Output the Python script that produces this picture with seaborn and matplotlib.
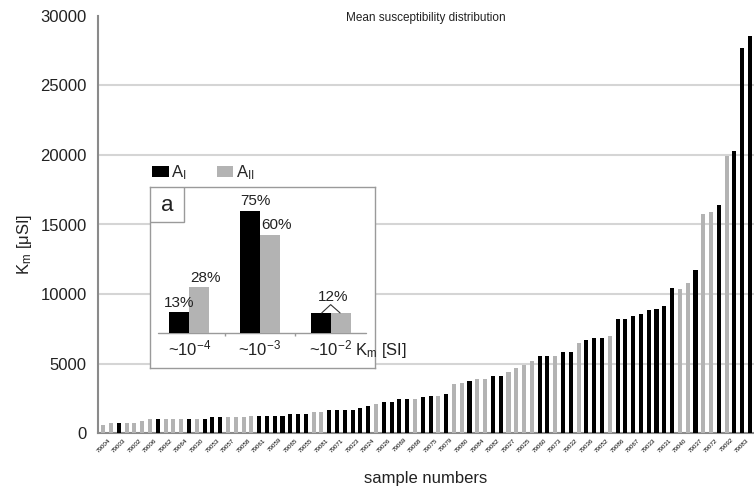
import numpy as np
import pandas as pd
import matplotlib
matplotlib.use("Agg")
import matplotlib.pyplot as plt
from matplotlib.patches import Patch, Rectangle
import seaborn as sns

# Mean susceptibility of each sample, sorted ascending [uSI]
km_values = [620, 750, 750, 750, 750, 900, 1000, 1000, 1000, 1000,
             1000, 1000, 1000, 1000, 1150, 1150, 1150, 1150, 1150, 1250,
             1250, 1250, 1250, 1250, 1420, 1420, 1420, 1540, 1540, 1680,
             1680, 1680, 1680, 1800, 1980, 2120, 2220, 2220, 2440, 2440,
             2440, 2580, 2700, 2700, 2820, 3510, 3630, 3750, 3870, 3870,
             4130, 4130, 4420, 4660, 4900, 5160, 5540, 5540, 5540, 5830,
             5830, 6480, 6720, 6860, 6860, 7000, 8200, 8200, 8440, 8600,
             8840, 8960, 9130, 10440, 10400, 10800, 11710, 15750, 15890, 16420,
             19930, 20310, 27650, 28560]

# Site group of each sample (I = A_I, II = A_II)
km_groups = ["II", "II", "I", "II", "II", "II", "II", "I", "II", "II",
             "II", "I", "II", "I", "I", "I", "II", "II", "II", "II",
             "I", "I", "I", "I", "I", "I", "I", "II", "II", "I",
             "I", "I", "I", "I", "I", "II", "I", "I", "I", "I",
             "II", "I", "I", "II", "I", "II", "II", "I", "II", "II",
             "I", "I", "II", "II", "II", "II", "I", "I", "II", "I",
             "I", "II", "I", "I", "I", "II", "I", "I", "I", "I",
             "I", "I", "I", "I", "II", "II", "I", "II", "II", "I",
             "II", "I", "I", "I"]

# Sample numbers printed under every second bar
sample_labels = ["79004", "79003", "79002", "79006", "79062", "79064", "79030",
                 "79053", "79057", "79058", "79061", "79059", "79065", "79055",
                 "79081", "79071", "79023", "79024", "79026", "79069", "79068",
                 "79075", "79079", "79080", "79084", "79082", "79027", "79025",
                 "79060", "79073", "79032", "79036", "79052", "79086", "79067",
                 "79033", "79031", "79040", "79037", "79072", "79092", "79083"]

# Inset: share of samples per susceptibility order of magnitude [%]
inset_ranges = ["~10$^{-4}$", "~10$^{-3}$", "~10$^{-2}$"]
inset_AI = [13, 75, 12]
inset_AII = [28, 60, 12]

sns.set_style("white")
plt.rcParams["font.family"] = ["Liberation Sans", "DejaVu Sans"]
plt.rcParams["mathtext.default"] = "regular"

BLACK = "#000000"
GREY = "#b3b3b3"
AXIS = "#8a8a8a"
TEXT = "#222222"

W, H = 754, 494
fig = plt.figure(figsize=(W / 100, H / 100), dpi=100)

def fig_rect(x0, y0, x1, y1):
    """Pixel box (top-left origin) -> figure fraction rect."""
    return [x0 / W, 1 - y1 / H, (x1 - x0) / W, (y1 - y0) / H]

ax = fig.add_axes(fig_rect(98, 15.7, 754, 433.3))

df = pd.DataFrame({"pos": np.arange(len(km_values)),
                   "Km": km_values,
                   "group": km_groups})
sns.barplot(data=df, x="pos", y="Km", hue="group",
            palette={"I": BLACK, "II": GREY}, dodge=False, width=0.52,
            saturation=1, legend=False, ax=ax, zorder=3, linewidth=0)

ax.set_xlim(-0.68, len(km_values) - 1 + 0.51)
ax.set_ylim(0, 30000)

for v in range(5000, 30000, 5000):
    ax.axhline(v, color="#d5d5d5", lw=1.5, zorder=0)

for side in ("top", "right"):
    ax.spines[side].set_visible(False)
for side in ("left", "bottom"):
    ax.spines[side].set_color(AXIS)
    ax.spines[side].set_linewidth(1.5)

ax.set_yticks(range(0, 30001, 5000))
ax.tick_params(axis="y", length=4, width=1.2, color=AXIS, labelsize=12,
               pad=4, labelcolor=TEXT)

label_pos = np.arange(0, len(km_values), 2)[:len(sample_labels)]
ax.set_xticks(label_pos)
ax.set_xticklabels(sample_labels, rotation=45, ha="center", va="top",
                   fontsize=4.5, color="#000000")
ax.tick_params(axis="x", length=0, pad=3)
ax.set_xticks(np.arange(len(km_values)) - 0.5, minor=True)
ax.tick_params(axis="x", which="minor", length=5, width=1.2, color="#6a6a6a")
ax.set_xlabel("")
ax.set_ylabel("")

fig.text(426 / W, 1 - 18 / H, "Mean susceptibility distribution",
         ha="center", va="center", fontsize=8.5, color=TEXT)
fig.text(24 / W, 1 - 244 / H, "K$_{m}$ [μSI]", rotation=90,
         ha="center", va="center", fontsize=12, color=TEXT)
fig.text(426 / W, 1 - 478 / H, "sample numbers",
         ha="center", va="center", fontsize=12, color=TEXT)

# Legend for the two sample groups
handles = [Patch(facecolor=BLACK, edgecolor="none"),
           Patch(facecolor=GREY, edgecolor="none")]
fig.legend(handles, ["A$_{I}$", "A$_{II}$"], ncol=2, frameon=False,
           loc="lower left", bbox_to_anchor=(152 / W, 1 - 182 / H),
           borderpad=0, fontsize=12, handlelength=1.0, handleheight=0.72,
           handletextpad=0.15, columnspacing=1.8, borderaxespad=0)

# Inset with the order-of-magnitude distribution
ins = fig.add_axes(fig_rect(150, 187, 375, 368))
ins.set_facecolor("white")
idf = pd.DataFrame({"range": inset_ranges * 2,
                    "pct": inset_AI + inset_AII,
                    "group": ["I"] * 3 + ["II"] * 3})
sns.barplot(data=idf, x="range", y="pct", hue="group",
            palette={"I": BLACK, "II": GREY}, width=0.57, dodge=True,
            saturation=1, legend=False, ax=ins, zorder=3, linewidth=0)
ins.set_xlim(-0.556, 2.627)
ins.set_ylim(-21.5, 89.6)
ins.set_xticks([])
ins.set_yticks([])
ins.set_xlabel("")
ins.set_ylabel("")
for s in ins.spines.values():
    s.set_color("#9a9a9a")
    s.set_linewidth(1.0)
ins.axhline(0, xmin=0.036, xmax=0.96, color="#9a9a9a", lw=1.0, zorder=2)
ins.vlines([0.5, 1.5], -1.8, 0, color="#9a9a9a", lw=1.0)

half = 0.57 / 4
pct_style = dict(ha="center", va="bottom", fontsize=11, color=TEXT)
ins.text(0 - half, inset_AI[0] + 1.0, f"{inset_AI[0]}%", **pct_style)
ins.text(0 + half + 0.09, inset_AII[0] + 1.5, f"{inset_AII[0]}%", **pct_style)
ins.text(1 - half + 0.085, inset_AI[1] + 1.8, f"{inset_AI[1]}%", **pct_style)
ins.text(1 + half + 0.085, inset_AII[1] + 1.8, f"{inset_AII[1]}%", **pct_style)
ins.plot([2 - 0.127, 2, 2 + 0.133],
         [inset_AI[2] + 0.3, inset_AI[2] + 5.4, inset_AII[2] + 0.3],
         color="#333333", lw=0.8, zorder=4)
ins.text(2.03, inset_AI[2] + 5.8, f"{inset_AI[2]}%", **pct_style)

for i, lab in enumerate(inset_ranges):
    ins.text(i, -9.5, lab, ha="center", va="center", fontsize=12, color=TEXT)
ins.text(2.34, -10.5, "K$_{m}$ [SI]", ha="left", va="center", fontsize=12,
         color=TEXT, clip_on=False)

ins.add_patch(Rectangle((0, 0.807), 0.151, 0.193, transform=ins.transAxes,
                        facecolor="white", edgecolor="#9a9a9a", lw=1.0,
                        zorder=5))
ins.text(0.0756, 0.9, "a", transform=ins.transAxes, ha="center",
         va="center", fontsize=16, color=TEXT, zorder=6)

fig.savefig("out.png", dpi=100)
